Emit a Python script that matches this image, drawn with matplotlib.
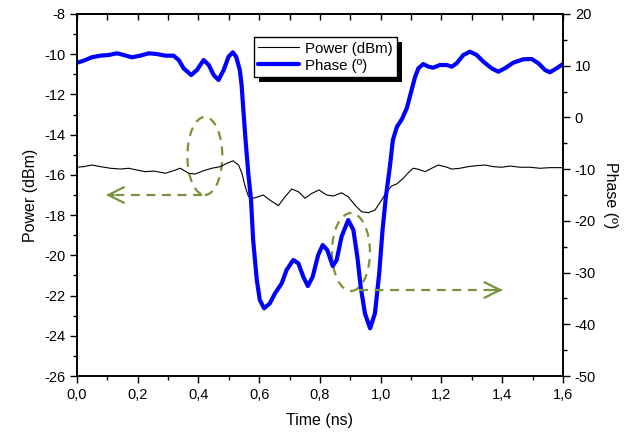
import matplotlib
matplotlib.use("Agg")
import matplotlib.pyplot as plt
from matplotlib.patches import Ellipse, Rectangle
from matplotlib.ticker import MultipleLocator, FuncFormatter
from matplotlib.transforms import IdentityTransform

plt.rcParams['font.family'] = ['Liberation Sans', 'DejaVu Sans']
plt.rcParams['axes.unicode_minus'] = False

# =============================================================================
# Données
# =============================================================================
t_power = [0.000, 0.022, 0.049, 0.077, 0.110, 0.143, 0.170, 0.198, 0.225, 0.253,
           0.291, 0.318, 0.340, 0.368, 0.389, 0.417, 0.444, 0.472, 0.494, 0.514,
           0.532, 0.543, 0.554, 0.565, 0.582, 0.613, 0.635, 0.663, 0.685, 0.707,
           0.729, 0.751, 0.773, 0.797, 0.822, 0.844, 0.871, 0.893, 0.915, 0.937,
           0.959, 0.981, 1.003, 1.020, 1.036, 1.053, 1.074, 1.091, 1.107, 1.124,
           1.146, 1.168, 1.189, 1.212, 1.234, 1.261, 1.288, 1.316, 1.343, 1.371,
           1.398, 1.426, 1.458, 1.491, 1.524, 1.557, 1.600]
power = [-15.62, -15.59, -15.51, -15.59, -15.67, -15.71, -15.67, -15.76, -15.84, -15.81,
         -15.92, -15.79, -15.67, -15.92, -15.96, -15.79, -15.67, -15.59, -15.42, -15.30,
         -15.51, -15.92, -16.59, -17.09, -17.16, -17.00, -17.25, -17.53, -17.09, -16.70,
         -16.84, -17.16, -16.92, -16.75, -17.00, -17.05, -16.89, -17.09, -17.50, -17.83,
         -17.88, -17.75, -17.25, -16.84, -16.55, -16.45, -16.17, -15.89, -15.67, -15.72,
         -15.84, -15.67, -15.51, -15.59, -15.71, -15.67, -15.59, -15.54, -15.51, -15.59,
         -15.62, -15.56, -15.62, -15.62, -15.67, -15.64, -15.64]

t_phase = [0.000, 0.022, 0.049, 0.077, 0.104, 0.132, 0.154, 0.181, 0.208, 0.236,
           0.263, 0.291, 0.318, 0.335, 0.351, 0.376, 0.395, 0.417, 0.434, 0.450,
           0.466, 0.483, 0.499, 0.513, 0.524, 0.536, 0.542, 0.547, 0.555, 0.564,
           0.573, 0.580, 0.592, 0.602, 0.616, 0.635, 0.652, 0.674, 0.690, 0.712,
           0.729, 0.745, 0.760, 0.776, 0.794, 0.809, 0.824, 0.842, 0.855, 0.871,
           0.893, 0.910, 0.923, 0.934, 0.948, 0.965, 0.981, 0.995, 1.006, 1.017,
           1.030, 1.040, 1.053, 1.070, 1.086, 1.100, 1.113, 1.124, 1.140, 1.157,
           1.173, 1.195, 1.217, 1.234, 1.250, 1.272, 1.294, 1.316, 1.338, 1.365,
           1.387, 1.409, 1.436, 1.469, 1.497, 1.519, 1.541, 1.557, 1.579, 1.600]
phase = [10.58, 10.97, 11.63, 11.94, 12.07, 12.40, 12.07, 11.63, 11.94, 12.40,
         12.26, 11.94, 11.94, 11.10, 9.50, 8.20, 9.17, 11.10, 10.14, 8.20,
         7.24, 9.17, 11.74, 12.59, 11.74, 9.17, 6.27, 2.07, -4.37, -10.81,
         -15.97, -23.71, -31.44, -35.31, -36.91, -35.95, -34.01, -32.08, -29.51, -27.57,
         -28.21, -30.80, -32.60, -30.80, -26.61, -24.67, -25.64, -28.73, -27.57, -23.07,
         -19.84, -21.77, -26.94, -32.74, -37.88, -40.78, -37.88, -30.15, -21.77, -15.33,
         -9.59, -4.37, -1.85, -0.31, 1.82, 4.92, 7.82, 9.50, 10.33, 9.81,
         9.62, 10.14, 10.14, 9.81, 10.47, 12.07, 12.71, 12.07, 10.78, 9.50,
         8.84, 9.50, 10.58, 11.24, 11.30, 10.47, 9.17, 8.73, 9.50, 10.33]

green = '#77933C'

# =============================================================================
# Figure
# =============================================================================
fig = plt.figure(figsize=(6.42, 4.36), dpi=100)
ax = fig.add_axes([0.1199, 0.1376, 0.757, 0.8303])
ax2 = ax.twinx()

l1, = ax.plot(t_power, power, color='black', lw=0.8, label='Power (dBm)')
l2, = ax2.plot(t_phase, phase, color='#0000FF', lw=3.0, solid_joinstyle='round',
               solid_capstyle='round', label='Phase (º)')

ax.set_xlim(0, 1.6)
ax.set_ylim(-26, -8)
ax2.set_ylim(-50, 20)

ax.xaxis.set_major_locator(MultipleLocator(0.2))
ax.xaxis.set_minor_locator(MultipleLocator(0.1))
ax.yaxis.set_major_locator(MultipleLocator(2))
ax.yaxis.set_minor_locator(MultipleLocator(1))
ax2.yaxis.set_major_locator(MultipleLocator(10))
ax2.yaxis.set_minor_locator(MultipleLocator(5))
ax.xaxis.set_major_formatter(FuncFormatter(lambda v, p: f"{v:.1f}".replace('.', ',')))

ax.tick_params(axis='x', which='both', direction='out', top=False, labelsize=10.5)
ax.tick_params(axis='y', which='both', direction='out', right=False, labelsize=10.5)
ax.tick_params(which='major', length=5, width=1)
ax.tick_params(which='minor', length=3, width=1)
ax2.tick_params(axis='y', which='both', direction='out', labelsize=10.5, width=1)
ax2.tick_params(which='major', length=5)
ax2.tick_params(which='minor', length=3)

# ticks du haut vers l'intérieur
sec = ax.secondary_xaxis('top')
sec.xaxis.set_major_locator(MultipleLocator(0.1))
sec.tick_params(direction='in', length=4, width=1, labeltop=False)
sec.spines['top'].set_linewidth(1.2)

for a in (ax, ax2):
    for s in a.spines.values():
        s.set_linewidth(1.2)

ax.set_xlabel('Time (ns)', fontsize=11.5, labelpad=8)
ax.set_ylabel('Power (dBm)', fontsize=11.5, labelpad=4)
ax2.set_ylabel('Phase (º)', fontsize=11.5, rotation=270, labelpad=16)

# annotations
ax.add_patch(Ellipse((0.421, -15.06), 0.115, 3.88, fill=False, ec=green, lw=1.6,
                     ls=(0, (4, 3))))
ax.plot([0.41, 0.10], [-17.0, -17.0], color=green, lw=1.6, ls=(0, (4, 3)))
ax.annotate('', xy=(0.086, -17.0), xytext=(0.13, -17.0),
            arrowprops=dict(arrowstyle='->,head_length=0.8,head_width=0.4',
                            color=green, lw=1.6, mutation_scale=14))

ax2.add_patch(Ellipse((0.902, -26.03), 0.125, 15.08, fill=False, ec=green, lw=1.6,
                      ls=(0, (4, 3))))
ax2.plot([0.93, 1.40], [-33.37, -33.37], color=green, lw=1.6, ls=(0, (4, 3)))
ax2.annotate('', xy=(1.41, -33.37), xytext=(1.36, -33.37),
             arrowprops=dict(arrowstyle='->,head_length=0.8,head_width=0.4',
                             color=green, lw=1.6, mutation_scale=14))

leg = ax2.legend(handles=[l1, l2], loc='upper left', bbox_to_anchor=(0.364, 0.936),
                 borderaxespad=0, fancybox=False, framealpha=1, fontsize=10.8,
                 handlelength=2.7, handletextpad=0.4, borderpad=0.3, labelspacing=0.2)
leg.get_frame().set_edgecolor('black')
leg.get_frame().set_linewidth(1.0)

# ombre noire du cadre de légende
fig.canvas.draw()
bb = leg.get_window_extent()
shadow = Rectangle((bb.x0 + 5, bb.y0 - 5), bb.width, bb.height, transform=IdentityTransform(),
                   facecolor='black', edgecolor='none', zorder=leg.get_zorder() - 0.5)
ax2.add_artist(shadow)

fig.savefig('out.png', dpi=100)
